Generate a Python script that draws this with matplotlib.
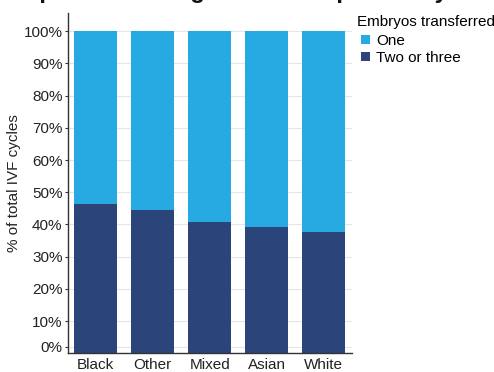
import matplotlib
matplotlib.use("Agg")
import matplotlib.pyplot as plt
from matplotlib.ticker import FixedLocator, FixedFormatter

# ── Data ──────────────────────────────────────────────────────────────────────

ETHNICITY = ["Black", "Other", "Mixed", "Asian", "White"]
TWO_OR_THREE = [0.464, 0.446, 0.408, 0.392, 0.377]   # share of cycles, 2-3 embryos
ONE = [1 - v for v in TWO_OR_THREE]                   # share of cycles, 1 embryo

TICK_VALUES = [0.02, 0.1, 0.2, 0.3, 0.4, 0.5, 0.6, 0.7, 0.8, 0.9, 1.0]
TICK_LABELS = ["0%", "10%", "20%", "30%", "40%", "50%",
               "60%", "70%", "80%", "90%", "100%"]

LIGHT = "#27A9E1"
DARK = "#2B457B"
FS = 11

# ── Figure ────────────────────────────────────────────────────────────────────

plt.rcParams["font.family"] = ["Liberation Sans", "DejaVu Sans"]
plt.rcParams["font.size"] = FS

fig = plt.figure(figsize=(4.94, 3.72), dpi=100)
ax = fig.add_axes([0.137, 0.05, 0.576, 0.915])

x = range(len(ETHNICITY))
ax.bar(x, TWO_OR_THREE, width=0.75, color=DARK, label="Two or three", zorder=2)
ax.bar(x, ONE, width=0.75, bottom=TWO_OR_THREE, color=LIGHT, label="One", zorder=2)

ax.set_xlim(-0.49, 4.5)
ax.set_ylim(0, 1.056)
ax.set_xticks(list(x))
ax.set_xticklabels(ETHNICITY, color="#222222")
ax.tick_params(axis="x", length=0, pad=3)

ax.yaxis.set_major_locator(FixedLocator(TICK_VALUES))
ax.yaxis.set_major_formatter(FixedFormatter(TICK_LABELS))
ax.tick_params(axis="y", length=2.5, width=0.8, color="#333333", pad=1.2, labelcolor="#222222")
ax.grid(axis="y", color="#E6E6E6", linewidth=0.8, zorder=0)
ax.set_axisbelow(True)

for side in ("top", "right"):
    ax.spines[side].set_visible(False)
for side in ("left", "bottom"):
    ax.spines[side].set_color("#333333")
    ax.spines[side].set_linewidth(1.0)

ax.set_ylabel("% of total IVF cycles", color="#222222", labelpad=2)

handles, labels = ax.get_legend_handles_labels()
leg = fig.legend(handles[::-1], labels[::-1], title="Embryos transferred",
                 loc="upper left", bbox_to_anchor=(0.731, 0.955),
                 frameon=False, handlelength=0.55, handleheight=0.55,
                 handletextpad=0.45, labelspacing=0.2, borderpad=0,
                 borderaxespad=0, alignment="left", fontsize=FS,
                 title_fontsize=FS)
# pull the legend title a few pixels left of the swatches
leg.get_title().set_position((-4, 2))

# headline sits above the canvas, only its descenders reach the top edge
fig.text(0.0, 1.006, "Proportion of single and multiple embryo transfers by ethnicity",
         fontsize=17, fontweight="bold", va="baseline", ha="left", color="#111111")

fig.savefig("out.png", dpi=100)
